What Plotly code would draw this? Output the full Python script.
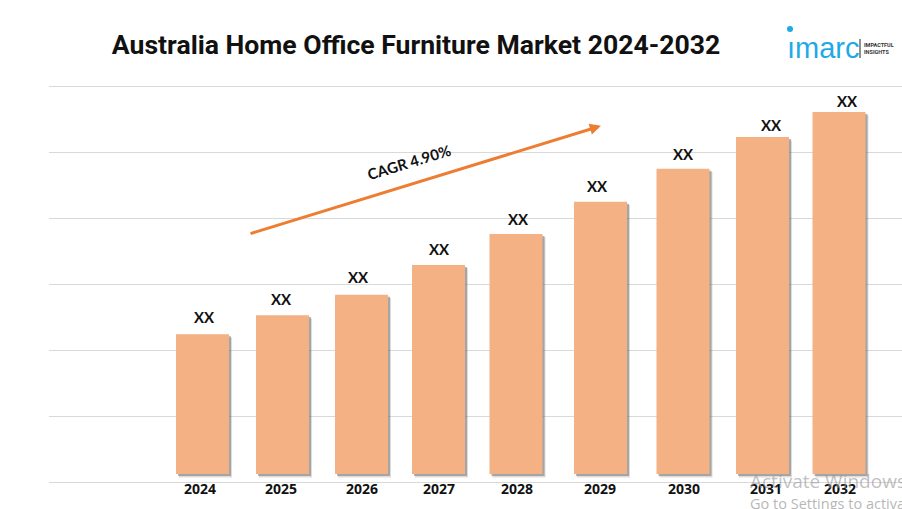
# plot.py
import plotly.graph_objects as go

# ---------- data ----------
years = ["2024", "2025", "2026", "2027", "2028", "2029", "2030", "2031", "2032"]
values = [2.24, 2.53, 2.84, 3.29, 3.76, 4.25, 4.75, 5.23, 5.61]
bar_labels = ["XX"] * len(years)

# ---------- layout constants ----------
W, H = 902, 509
L, R_EDGE, TOP, BOTTOM = 49, 902, 80, 482
# bars are not evenly spaced in the original, so x is in window pixels
SLOTS = [202.5, 282.5, 361.5, 438.5, 516, 600.5, 683, 762.5, 839]
TICK_X = [200, 281, 362, 439, 517, 600, 684, 766, 840]
LABEL_X = [204, 281, 358, 439, 518, 597, 683, 771, 847]
LABEL_PAD = [6, 5, 7, 5, 4, 5, 4, 1, 0]
BAR_W = 53
FLOOR = 0.12  # bars float a little above the bottom grid line

ORANGE = "#F4B183"
ARROW = "#ED7D31"
GRID = "#D9D9D9"
BLUE = "#1FA9E6"
INK = "#111111"

heights = [v - FLOOR for v in values]


# annotations with paper refs are relative to the plot area, not the window
def px(x):
    return (x - L) / (R_EDGE - L)


def py(y):
    return (BOTTOM - y) / (BOTTOM - TOP)


fig = go.Figure()

# soft drop shadow, two layers under the bars
for off, base_off, col in [(3, 0.05, "rgba(120,120,120,0.25)"), (2, 0.03, "rgba(110,110,110,0.5)")]:
    fig.add_trace(go.Bar(
        x=[s + off for s in SLOTS], y=heights, base=FLOOR - base_off, width=BAR_W,
        marker=dict(color=col, line_width=0), hoverinfo="skip", showlegend=False,
    ))

fig.add_trace(go.Bar(
    x=SLOTS, y=heights, base=FLOOR, width=BAR_W,
    marker=dict(color=ORANGE, line_width=0), showlegend=False,
))

# value labels
for s, v, lab, pad in zip(LABEL_X, values, bar_labels, LABEL_PAD):
    fig.add_annotation(
        x=s, y=v, text=lab, showarrow=False, yanchor="bottom", yshift=pad,
        font=dict(family="Lato", size=15, color=INK, weight=700),
    )

# CAGR arrow and label
fig.add_annotation(
    x=601, y=5.40, ax=249, ay=3.76, xref="x", yref="y", axref="x", ayref="y", text="",
    showarrow=True, arrowhead=2, arrowsize=0.75, arrowwidth=3, arrowcolor=ARROW,
)
fig.add_annotation(
    x=409, y=4.85, text="CAGR 4.90%", showarrow=False, textangle=-17,
    font=dict(family="Lato", size=15, color=INK, weight=700),
)

# logo
fig.add_shape(type="circle", xref="paper", yref="paper", x0=px(787), x1=px(793),
              y0=py(32), y1=py(26), fillcolor=BLUE, line_width=0)
fig.add_annotation(
    xref="paper", yref="paper", x=px(785), y=py(48), text="ımarc", showarrow=False,
    xanchor="left", yanchor="middle",
    font=dict(family="Liberation Sans", size=29, color=BLUE),
)
fig.add_shape(type="line", xref="paper", yref="paper", x0=px(860), x1=px(860),
              y0=py(58), y1=py(39), line=dict(color="#222222", width=1))
fig.add_annotation(
    xref="paper", yref="paper", x=px(862), y=py(49), text="IMPACTFUL<br>INSIGHTS", showarrow=False,
    xanchor="left", yanchor="middle", align="left",
    font=dict(family="Roboto", size=5.5, color="#333333", weight=700),
)

# watermark from the screenshot
fig.add_annotation(
    xref="paper", yref="paper", x=px(748), y=py(481), text="Activate Windows", showarrow=False,
    xanchor="left", yanchor="middle", font=dict(family="Open Sans", size=19, color="rgba(150,150,150,0.6)"),
)
fig.add_annotation(
    xref="paper", yref="paper", x=px(748), y=py(503), text="Go to Settings to activate Windows.", showarrow=False,
    xanchor="left", yanchor="middle", font=dict(family="Open Sans", size=14.5, color="rgba(150,150,150,0.7)"),
)

fig.update_layout(
    width=W, height=H, barmode="overlay", plot_bgcolor="white", paper_bgcolor="white",
    margin=dict(l=L, r=W - R_EDGE, t=TOP, b=H - BOTTOM),
    title=dict(
        text="Australia Home Office Furniture Market 2024-2032", x=416 / W, xanchor="center",
        y=1 - 45 / H, yanchor="middle",
        font=dict(family="Roboto", size=26.6, color=INK, weight=700),
    ),
    xaxis=dict(
        range=[L, R_EDGE], tickmode="array", tickvals=TICK_X, ticktext=years, showgrid=False,
        ticks="", zeroline=False, showline=False, ticklabelstandoff=-3,
        tickfont=dict(family="Open Sans", size=14, color=INK, weight=700),
    ),
    yaxis=dict(
        # well past 6 so the top grid line is not dropped at the plot edge
        range=[0, 6.0955], dtick=1, gridcolor=GRID, gridwidth=1, zeroline=True, zerolinecolor=GRID,
        zerolinewidth=1, showticklabels=False, ticks="", showline=False,
    ),
)

# page has a default body margin, drop it so the figure fills the window
fig.write_html("out.html", post_script="document.body.style.margin='0';",
               config={"displayModeBar": False})
